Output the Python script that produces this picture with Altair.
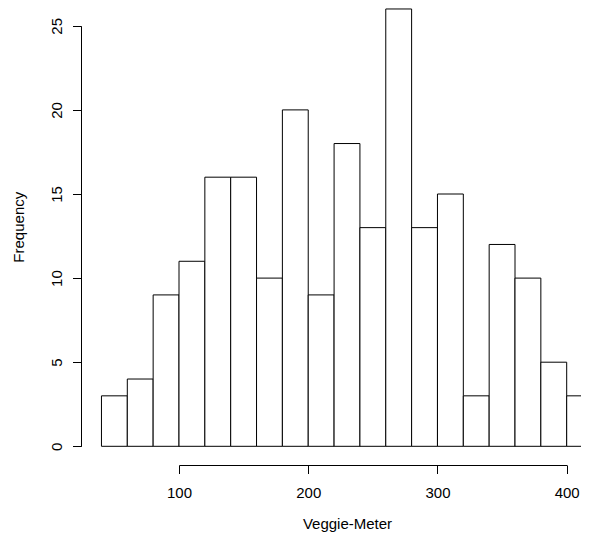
import altair as alt
import pandas as pd

# Histogram bins (left edges, width 20) and counts
bin_starts = [40, 60, 80, 100, 120, 140, 160, 180, 200, 220, 240, 260, 280, 300, 320, 340, 360, 380, 400]
counts = [3, 4, 9, 11, 16, 16, 10, 20, 9, 18, 13, 26, 13, 15, 3, 12, 10, 5, 3]
bin_width = 20
x_ticks = [100, 200, 300, 400]
y_ticks = [0, 5, 10, 15, 20, 25]

df = pd.DataFrame({
    "start": bin_starts,
    "end": [s + bin_width for s in bin_starts],
    "count": counts,
})

FONT = "Liberation Sans"

xscale = alt.Scale(domain=[100, 400], range=[98, 485.7], zero=False, nice=False)
yscale = alt.Scale(domain=[0, 25], range=[438.3, 17.8], zero=False, nice=False)

bars = alt.Chart(df).mark_rect(fill="white", stroke="black", strokeWidth=1).encode(
    x=alt.X("start:Q", scale=xscale,
            axis=alt.Axis(values=x_ticks, title="Veggie-Meter", grid=False,
                          domainColor="black", tickColor="black", tickSize=8.5,
                          labelFont=FONT, labelFontSize=15, labelColor="black",
                          labelPadding=11.5, labelFlush=False, labelOverlap=False,
                          titleFont=FONT, titleFontSize=15, titleFontWeight="normal",
                          titleColor="black", titleX=266, titleY=63.5,
                          titleBaseline="alphabetic", titleAlign="center")),
    x2="end:Q",
    y=alt.Y("count:Q", scale=yscale,
            axis=alt.Axis(values=y_ticks, title="Frequency", grid=False,
                          domainColor="black", tickColor="black", tickSize=8.5,
                          labelFont=FONT, labelFontSize=15, labelColor="black",
                          labelAngle=270, labelAlign="center", labelBaseline="alphabetic",
                          labelPadding=11, labelFlush=False, labelOverlap=False,
                          titleFont=FONT, titleFontSize=15, titleFontWeight="normal",
                          titleColor="black", titleAngle=270, titleX=-58, titleY=218.7,
                          titleBaseline="alphabetic", titleAlign="center")),
    y2=alt.datum(0),
)

chart = bars.properties(
    width=500,
    height=457,
    background="white",
    autosize=alt.AutoSizeParams(type="none"),
    padding={"left": 73, "top": 0, "right": 0, "bottom": 68},
).configure_view(stroke=None)

chart.save("out.html", embed_options={"renderer": "svg", "actions": False})
